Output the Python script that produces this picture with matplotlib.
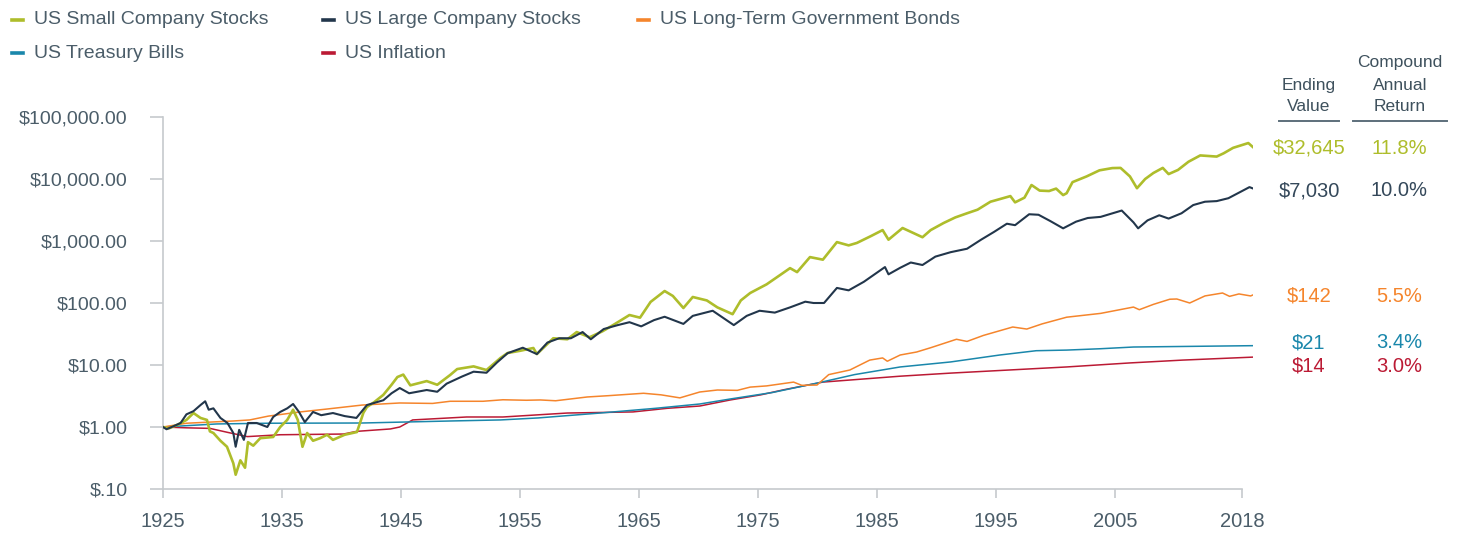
import matplotlib
matplotlib.use("Agg")
import matplotlib.pyplot as plt
from matplotlib.lines import Line2D

plt.rcParams['font.family'] = ['Liberation Sans', 'DejaVu Sans']

# ---------------- data ----------------
small_years = [1926.0, 1926.5, 1927.3, 1928.0, 1928.6, 1929.2, 1929.75, 1930.0, 1930.3, 1930.9,
               1931.46, 1932.0, 1932.2, 1932.6, 1933.0, 1933.25, 1933.7, 1934.3, 1935.4, 1936.0,
               1936.6, 1937.1, 1937.5, 1937.9, 1938.3, 1938.8, 1939.4, 1940.0, 1940.5, 1941.5,
               1942.55, 1943.1, 1943.4, 1944.0, 1944.8, 1945.5, 1946.0, 1946.5, 1947.1, 1948.5,
               1949.4, 1950.5, 1951.1, 1952.5, 1953.6, 1954.8, 1955.4, 1956.5, 1957.6, 1957.9,
               1959.3, 1960.5, 1961.3, 1962.4, 1963.5, 1964.4, 1965.8, 1966.7, 1967.6, 1968.8,
               1969.5, 1970.4, 1971.2, 1972.4, 1973.3, 1974.6, 1975.3, 1976.1, 1977.5, 1978.4,
               1979.5, 1980.1, 1981.2, 1982.3, 1983.5, 1984.5, 1985.2, 1986.4, 1987.4, 1987.9,
               1989.1, 1990.8, 1991.5, 1992.6, 1993.6, 1994.6, 1995.5, 1996.6, 1997.5, 1998.3,
               1998.7, 1999.5, 2000.1, 2000.8, 2001.6, 2002.2, 2002.8, 2003.1, 2003.6, 2004.8,
               2005.9, 2007.0, 2007.7, 2008.5, 2009.1, 2009.8, 2010.5, 2011.3, 2011.8, 2012.6,
               2013.5, 2014.5, 2015.9, 2016.5, 2017.3, 2018.6, 2019.0]
small_vals = [1.0, 0.95, 1.1, 1.3, 1.68, 1.4, 1.3, 0.85, 0.8, 0.6,
              0.48, 0.26, 0.17, 0.29, 0.22, 0.57, 0.5, 0.66, 0.69, 1.0,
              1.3, 1.9, 1.3, 0.48, 0.8, 0.6, 0.66, 0.75, 0.62, 0.75,
              0.83, 1.7, 2.1, 2.5, 3.3, 4.8, 6.4, 7.0, 4.7, 5.5,
              4.8, 6.9, 8.6, 9.5, 8.3, 13, 15.6, 17, 18.8, 15,
              27, 26, 34, 28, 35, 44, 64, 58, 104, 156,
              130, 83, 125, 110, 85, 66, 110, 145, 200, 262,
              365, 315, 550, 500, 960, 850, 930, 1200, 1500, 1050,
              1620, 1150, 1500, 1950, 2400, 2800, 3200, 4300, 4800, 5300,
              4200, 5000, 8000, 6500, 6400, 7000, 5500, 5900, 8900, 11000,
              13800, 15000, 15100, 11000, 7100, 10000, 12500, 15100, 12000, 14000,
              19000, 24000, 23000, 26000, 31800, 38000, 32645]

large_years = [1926.0, 1926.3, 1927.0, 1927.5, 1928.0, 1928.6, 1929.2, 1929.6, 1929.9, 1930.3,
               1930.9, 1931.5, 1932.0, 1932.2, 1932.5, 1932.9, 1933.25, 1934.0, 1934.9, 1935.4,
               1936.0, 1936.6, 1937.1, 1937.6, 1938.1, 1938.8, 1939.5, 1940.5, 1941.5, 1942.5,
               1943.4, 1944.8, 1945.5, 1946.2, 1947.0, 1948.5, 1949.4, 1950.2, 1951.5, 1952.5,
               1953.6, 1954.5, 1955.4, 1956.7, 1957.9, 1958.8, 1959.8, 1960.8, 1961.8, 1962.5,
               1963.6, 1964.8, 1965.8, 1966.8, 1967.9, 1968.8, 1970.4, 1971.2, 1972.9, 1974.7,
               1975.8, 1976.9, 1978.2, 1979.5, 1980.8, 1981.5, 1982.4, 1983.5, 1984.5, 1985.8,
               1987.6, 1987.9, 1988.9, 1989.8, 1990.8, 1991.9, 1993.2, 1994.6, 1995.8, 1996.9,
               1998.0, 1998.7, 1999.9, 2000.7, 2001.7, 2002.8, 2003.9, 2004.9, 2006.0, 2007.8,
               2008.8, 2009.2, 2010.0, 2011.0, 2011.8, 2012.9, 2013.9, 2014.9, 2015.9, 2016.9,
               2018.0, 2018.7, 2019.0]
large_vals = [1.0, 0.92, 1.05, 1.16, 1.6, 1.8, 2.26, 2.6, 1.9, 2.0,
              1.4, 1.16, 0.8, 0.48, 0.9, 0.62, 1.16, 1.16, 1.0, 1.45,
              1.75, 2.0, 2.35, 1.75, 1.2, 1.75, 1.55, 1.68, 1.5, 1.4,
              2.26, 2.7, 3.5, 4.25, 3.5, 3.95, 3.7, 5.0, 6.5, 7.8,
              7.5, 11, 15.5, 19, 15, 23, 27, 27, 34, 26,
              38, 44, 49, 42, 53, 60, 46, 62, 75, 44,
              62, 75, 70, 85, 105, 100, 100, 175, 160, 220,
              380, 290, 370, 450, 410, 560, 660, 750, 1050, 1400,
              1900, 1800, 2700, 2650, 2100, 1600, 2050, 2350, 2450, 3100,
              2000, 1600, 2150, 2600, 2300, 2800, 3800, 4300, 4400, 4900,
              6300, 7400, 7030]

bond_years = [1926.0, 1928.0, 1930.0, 1932.0, 1933.4, 1935.0, 1937.7, 1940.0, 1943.0, 1946.2,
              1949.0, 1950.5, 1953.3, 1955.0, 1957.0, 1958.2, 1959.5, 1962.2, 1964.0, 1967.0,
              1968.5, 1970.1, 1971.8, 1973.3, 1975.0, 1976.1, 1977.5, 1979.8, 1980.5, 1981.8,
              1982.8, 1984.6, 1986.3, 1987.4, 1987.8, 1988.9, 1990.3, 1991.5, 1993.7, 1994.6,
              1996.0, 1998.5, 1999.7, 2001.0, 2003.1, 2006.0, 2008.8, 2009.3, 2010.5, 2011.9,
              2012.5, 2013.6, 2014.9, 2016.4, 2017.0, 2017.8, 2018.8, 2019.0]
bond_vals = [1.0, 1.15, 1.2, 1.25, 1.3, 1.5, 1.75, 1.95, 2.26, 2.44,
             2.4, 2.6, 2.6, 2.75, 2.7, 2.73, 2.65, 3.05, 3.2, 3.5,
             3.3, 2.95, 3.67, 3.95, 3.9, 4.4, 4.6, 5.3, 4.7, 4.75,
             7.0, 8.3, 12, 13, 11.5, 14.5, 16.2, 19, 26, 24,
             30, 41, 38, 46, 59, 68, 86, 78, 95, 115,
             116, 100, 130, 145, 128, 140, 130, 135]

tbill_years = [1926.0, 1930.6, 1935.0, 1943.0, 1950.5, 1954.8, 1958.0, 1963.3, 1968.0, 1971.8,
               1974.4, 1978.0, 1981.8, 1985.0, 1988.9, 1993.2, 1997.4, 2000.5, 2003.1, 2006.0,
               2008.8, 2019.0]
tbill_vals = [1.0, 1.12, 1.15, 1.16, 1.25, 1.3, 1.4, 1.68, 2.0, 2.35,
              2.83, 3.6, 5.1, 7.0, 9.3, 11.2, 14.5, 17.0, 17.4, 18.3,
              19.5, 20.5]

infl_years = [1926.0, 1928.0, 1930.0, 1931.5, 1933.2, 1936.0, 1941.4, 1942.5, 1945.4, 1946.2,
              1947.3, 1951.9, 1955.0, 1960.5, 1966.1, 1969.0, 1971.8, 1974.4, 1977.0, 1979.0,
              1982.3, 1988.9, 1993.2, 2003.1, 2008.5, 2013.0, 2019.0]
infl_vals = [1.0, 0.97, 0.95, 0.82, 0.7, 0.75, 0.77, 0.85, 0.93, 1.0,
             1.3, 1.45, 1.45, 1.68, 1.75, 2.0, 2.18, 2.73, 3.3, 4.0,
             5.3, 6.6, 7.4, 9.3, 10.8, 12.0, 13.4]

series_names = ["US Small Company Stocks", "US Large Company Stocks",
                "US Long-Term Government Bonds", "US Treasury Bills", "US Inflation"]
ending_values = ["$32,645", "$7,030", "$142", "$21", "$14"]
annual_returns = ["11.8%", "10.0%", "5.5%", "3.4%", "3.0%"]
y_ticks = [0.1, 1, 10, 100, 1000, 10000, 100000]
y_tick_labels = ["$.10", "$1.00", "$10.00", "$100.00", "$1,000.00", "$10,000.00", "$100,000.00"]
x_tick_labels = ["1925", "1935", "1945", "1955", "1965", "1975", "1985", "1995", "2005", "2018"]

# ---------------- styling ----------------
C_SMALL = "#aebd2b"
C_LARGE = "#22364b"
C_BOND = "#f5852c"
C_TBILL = "#1a87ab"
C_INFL = "#bb1a34"
TXT = "#4b5d69"
AX = "#c6cacd"

W, H = 1462, 534
fig = plt.figure(figsize=(W / 100, H / 100), dpi=100)

def fx(px):
    return px / W

def fy(py):
    return 1 - py / H

left, right, top, bottom = 163, 1253, 117, 489
ax = fig.add_axes([fx(left), fy(bottom), fx(right - left), (bottom - top) / H])

ax.plot(infl_years, infl_vals, color=C_INFL, lw=1.1, zorder=2)
ax.plot(tbill_years, tbill_vals, color=C_TBILL, lw=1.1, zorder=2)
ax.plot(bond_years, bond_vals, color=C_BOND, lw=1.1, zorder=3)
ax.plot(small_years, small_vals, color=C_SMALL, lw=1.9, zorder=4)
ax.plot(large_years, large_vals, color=C_LARGE, lw=1.5, zorder=5)

ax.set_yscale("log")
ax.set_ylim(0.1, 100000)
ax.set_xlim(1926.0, 2019.0)
ax.set_yticks(y_ticks)
ax.set_yticklabels(y_tick_labels)
ax.yaxis.set_minor_locator(matplotlib.ticker.NullLocator())

px_per_year = (right - left) / (2019.0 - 1926.0)
xt = [1926.0 + k * 119 / px_per_year for k in range(9)] + [1926.0 + (1242 - left) / px_per_year]
ax.set_xticks(xt)
ax.set_xticklabels(x_tick_labels)

for s in ["top", "right"]:
    ax.spines[s].set_visible(False)
ax.spines["left"].set_color(AX)
ax.spines["bottom"].set_color(AX)
ax.spines["left"].set_linewidth(1.2)
ax.spines["bottom"].set_linewidth(1.2)
ax.spines["bottom"].set_bounds(1926.0, xt[-1])

ax.tick_params(axis="y", length=9.4, width=1.2, color=AX, pad=16, labelsize=14, labelcolor=TXT)
ax.tick_params(axis="x", length=6.5, width=1.2, color=AX, pad=10, labelsize=14.5, labelcolor=TXT)

# ---------------- legend (manual) ----------------
legend_items = [
    (series_names[0], C_SMALL, 12, 20),
    (series_names[1], C_LARGE, 323, 20),
    (series_names[2], C_BOND, 638, 20),
    (series_names[3], C_TBILL, 12, 53),
    (series_names[4], C_INFL, 323, 53),
]
for name, col, mx, my in legend_items:
    fig.add_artist(Line2D([fx(mx), fx(mx + 11)], [fy(my), fy(my)], color=col, lw=2.6,
                          transform=fig.transFigure))
    fig.text(fx(mx + 22), fy(my), name, color=TXT, fontsize=14, va="center", ha="left")

# ---------------- right-hand table ----------------
HDR = "#3e515d"
fig.text(fx(1309), fy(85), "Ending", color=HDR, fontsize=12.5, ha="center", va="center")
fig.text(fx(1309), fy(107), "Value", color=HDR, fontsize=12.5, ha="center", va="center")
fig.text(fx(1400), fy(63), "Compound", color=HDR, fontsize=12.5, ha="center", va="center")
fig.text(fx(1400), fy(85), "Annual", color=HDR, fontsize=12.5, ha="center", va="center")
fig.text(fx(1400), fy(107), "Return", color=HDR, fontsize=12.5, ha="center", va="center")
fig.add_artist(Line2D([fx(1279), fx(1339)], [fy(120.5), fy(120.5)], color="#5d6f7b", lw=1.4,
                      transform=fig.transFigure))
fig.add_artist(Line2D([fx(1353), fx(1447)], [fy(120.5), fy(120.5)], color="#5d6f7b", lw=1.4,
                      transform=fig.transFigure))

row_y = [148, 191, 296, 343, 366]
row_col = [C_SMALL, "#34485a", C_BOND, C_TBILL, C_INFL]
for ev, ar, yy, col in zip(ending_values, annual_returns, row_y, row_col):
    fig.text(fx(1309), fy(yy), ev, color=col, fontsize=14.5, ha="center", va="center")
    fig.text(fx(1399), fy(yy), ar, color=col, fontsize=14.5, ha="center", va="center")

fig.savefig("out.png", dpi=100)
